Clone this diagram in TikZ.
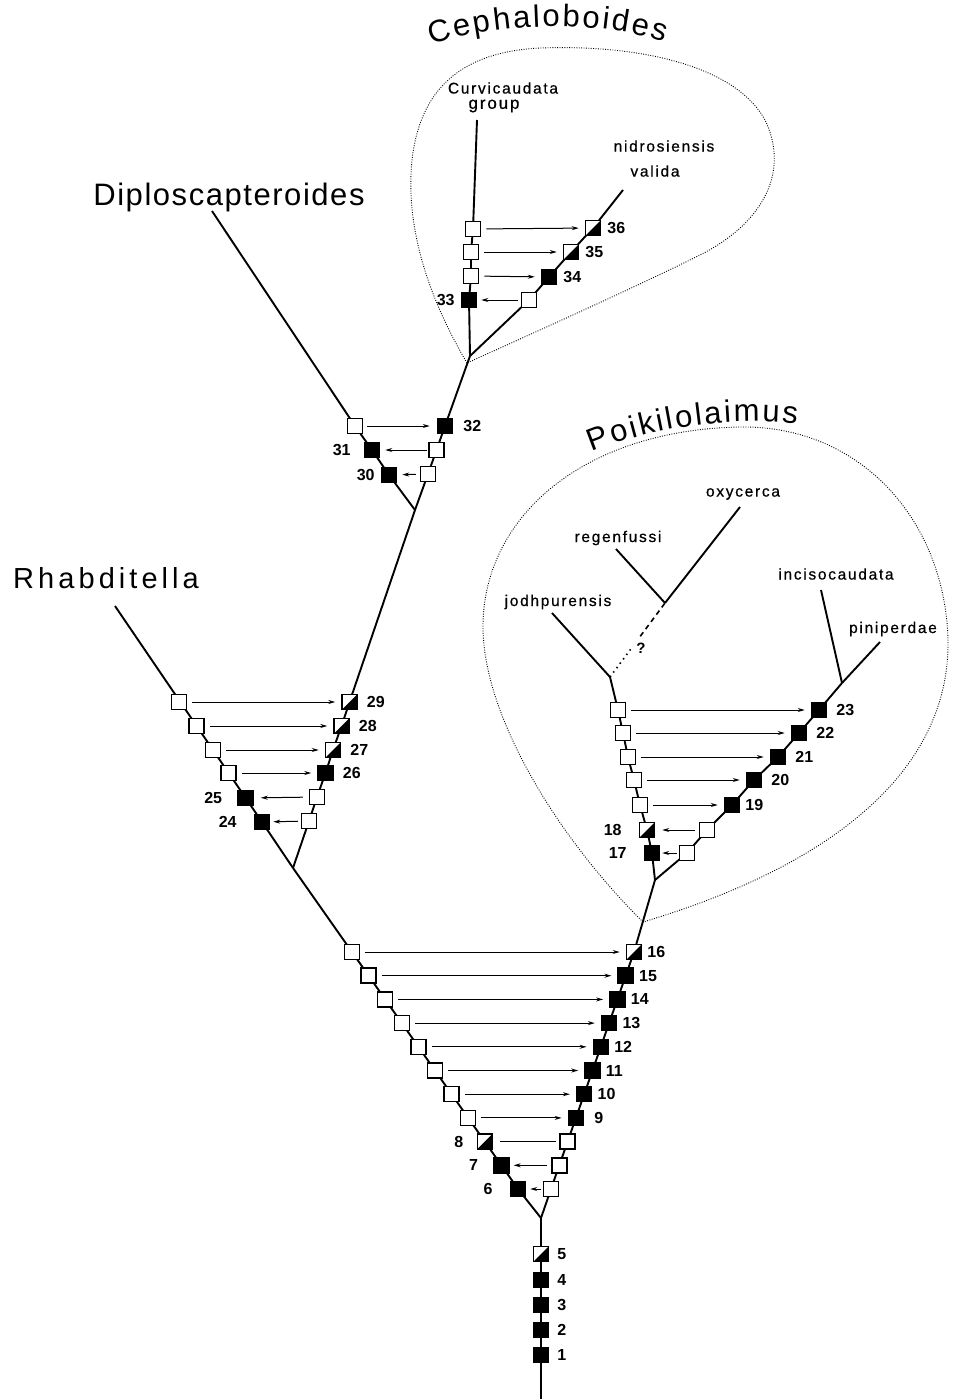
\documentclass[tikz,border=0pt]{standalone}
\usepackage{fontspec}
\setmainfont{Liberation Sans}
\usetikzlibrary{arrows.meta,backgrounds,positioning,calc,decorations.text}
\newfontfamily\spfont{Liberation Sans}[LetterSpace=11,FakeBold=0.6]
\newcommand\ttlsz{\fontsize{31}{31}\selectfont}
\begin{document}
\begin{tikzpicture}[x=1pt,y=-1pt,
  bx/.style={draw,line width=1.5pt,minimum size=15pt,inner sep=0pt,fill=white},
  fb/.style={bx,fill=black},
  hb/.style={bx,path picture={\fill[black] (path picture bounding box.south west) -- (path picture bounding box.north east) -- (path picture bounding box.south east) -- cycle;}},
  tree/.style={line width=1.9pt},
  arr/.style={line width=1pt,-{Stealth[length=7pt,width=4pt]},shorten <=5pt,shorten >=6pt},
  num/.style={font=\bfseries\fontsize{16}{16}\selectfont,inner sep=0pt},
  sp/.style={font=\spfont\fontsize{15.5}{15.5}\selectfont,inner sep=0pt},
  big/.style={font=\addfontfeature{LetterSpace=5}\fontsize{31}{31}\selectfont,inner sep=0pt},
  env/.style={line width=0.9pt,dash pattern=on 0.9pt off 1.5pt},
]
\useasboundingbox (0,0) rectangle (953,1399);

% ---------- trunk ----------
\coordinate (bot) at (541,1399);
\node[fb] (b1) at (541,1355) {};
\node[fb] (b2) at (541,1330) {};
\node[fb] (b3) at (541,1305) {};
\node[fb] (b4) at (541,1280) {};
\node[hb] (b5) at (541,1254) {};
\coordinate (f0) at (541,1218);
\foreach \i in {1,...,5} {\node[num,right=8pt of b\i] (nb\i) {\i};}

% ---------- main V ----------
\node[fb] (L6) at (518,1189) {};
\node[fb] (L7) at (501.4,1165.3) {};
\node[hb] (L8) at (484.8,1141.6) {};
\node[bx] (L9) at (468.2,1117.9) {};
\node[bx] (L10) at (451.6,1094.2) {};
\node[bx] (L11) at (435,1070.5) {};
\node[bx] (L12) at (418.4,1046.8) {};
\node[bx] (L13) at (401.8,1023.1) {};
\node[bx] (L14) at (385.2,999.4) {};
\node[bx] (L15) at (368.6,975.7) {};
\node[bx] (L16) at (352,952) {};
\node[bx] (R6) at (551,1189) {};
\node[bx] (R7) at (559.3,1165.3) {};
\node[bx] (R8) at (567.6,1141.6) {};
\node[fb] (R9) at (575.9,1117.9) {};
\node[fb] (R10) at (584.2,1094.2) {};
\node[fb] (R11) at (592.5,1070.5) {};
\node[fb] (R12) at (600.8,1046.8) {};
\node[fb] (R13) at (609.1,1023.1) {};
\node[fb] (R14) at (617.4,999.4) {};
\node[fb] (R15) at (625.7,975.7) {};
\node[hb] (R16) at (634,952) {};
\foreach \i in {10,...,16} {\node[num,right=5pt of R\i] (nR\i) {\i};}
\node[num,right=10pt of R9] (nR9) {9};
\node[num,left=13pt of L8] (nL8) {8};
\node[num,left=15pt of L7] (nL7) {7};
\node[num,left=17pt of L6] (nL6) {6};
\foreach \i in {9,...,16} {\draw[arr] (L\i) -- (R\i);}
\draw[line width=1pt,shorten <=7pt,shorten >=3pt] (L8) -- (R8);
\draw[arr,shorten <=4pt,shorten >=4pt] (R7) -- (L7);
\draw[arr,shorten <=1.5pt,shorten >=4pt] (R6) -- (L6);

% ---------- Rhabditella ----------
\coordinate (fR) at (293,868);
\node[fb] (L24) at (262,822) {};
\node[fb] (L25) at (245.5,798) {};
\node[bx] (L26) at (228.5,773) {};
\node[bx] (L27) at (213,750) {};
\node[bx] (L28) at (196.5,726) {};
\node[bx] (L29) at (179,702) {};
\coordinate (eRh) at (115,606);
\node[bx] (R24) at (309,821) {};
\node[bx] (R25) at (317,797) {};
\node[fb] (R26) at (325.5,773) {};
\node[hb] (R27) at (333,750) {};
\node[hb] (R28) at (341.5,726) {};
\node[hb] (R29) at (349.5,702) {};
\foreach \i in {26,...,29} {\node[num,right=9pt of R\i] (nR\i) {\i}; \draw[arr] (L\i) -- (R\i);}
\node[num,left=15pt of L25] (nL25) {25};
\node[num,left=17pt of L24] (nL24) {24};
\draw[arr,shorten <=6pt,shorten >=7pt] (R25) -- (L25);
\draw[arr,shorten <=3pt,shorten >=3pt] (R24) -- (L24);

% ---------- Diploscapteroides ----------
\coordinate (fD) at (415,510);
\node[fb] (D30) at (389,475) {};
\node[fb] (D31) at (372,450) {};
\node[bx] (D32) at (355,426) {};
\coordinate (eDi) at (212,211);
\node[bx] (E30) at (428,474) {};
\node[bx] (E31) at (436.5,450) {};
\node[fb] (E32) at (445,426) {};
\node[num,right=10pt of E32] (nE32) {32};
\node[num,left=13pt of D31] (nD31) {31};
\node[num,left=6pt of D30] (nD30) {30};
\draw[arr,shorten <=4pt,shorten >=7pt] (D32) -- (E32);
\draw[arr,shorten <=1pt,shorten >=5pt] (E31) -- (D31);
\draw[arr,shorten <=4pt,shorten >=5pt] (E30) -- (D30);

% ---------- Cephaloboides ----------
\coordinate (fC) at (470,356);
\node[fb] (C33) at (469,300) {};
\node[bx] (C34) at (471,276) {};
\node[bx] (C35) at (471,252) {};
\node[bx] (C36) at (473,229) {};
\coordinate (eCv) at (477,120);
\node[bx] (K33) at (529,300) {};
\node[fb] (K34) at (549,277) {};
\node[hb] (K35) at (571,252) {};
\node[hb] (K36) at (593,228) {};
\coordinate (eNi) at (623,190);
\foreach \i in {34,35,36} {\node[num,right=6pt of K\i] (nK\i) {\i}; \draw[arr] (C\i) -- (K\i);}
\node[num,left=6pt of C33] (nC33) {33};
\draw[arr,shorten <=3pt,shorten >=4pt] (K33) -- (C33);

% ---------- Poikilolaimus ----------
\coordinate (fP) at (655,880);
\node[fb] (P17) at (652,853) {};
\node[hb] (P18) at (647,830) {};
\node[bx] (P19) at (640,805) {};
\node[bx] (P20) at (634,780) {};
\node[bx] (P21) at (628,757) {};
\node[bx] (P22) at (623,733) {};
\node[bx] (P23) at (618,710) {};
\coordinate (fJ) at (610,677);
\node[bx] (Q17) at (687,853) {};
\node[bx] (Q18) at (707,830) {};
\node[fb] (Q19) at (732,805) {};
\node[fb] (Q20) at (754,780) {};
\node[fb] (Q21) at (778,757) {};
\node[fb] (Q22) at (799,733) {};
\node[fb] (Q23) at (819,710) {};
\coordinate (fI) at (842,683);
\node[num,right=5pt of Q19] (nQ19) {19};
\foreach \i in {20,...,23} {\node[num,right=9pt of Q\i] (nQ\i) {\i};}
\foreach \i in {19,...,23} {\draw[arr] (P\i) -- (Q\i);}
\node[num,left=17pt of P18] (nP18) {18};
\node[num,left=17pt of P17] (nP17) {17};
\draw[arr,shorten <=4pt,shorten >=7pt] (Q18) -- (P18);
\draw[arr,shorten <=2pt,shorten >=2pt] (Q17) -- (P17);
\coordinate (eJo) at (552,613);
\coordinate (fRg) at (665,603);
\coordinate (eRg) at (616,549);
\coordinate (eOx) at (740,507);
\coordinate (eIn) at (821,590);
\coordinate (ePi) at (880,642);

% ---------- tree lines ----------
\begin{scope}[on background layer]
\draw[tree] (bot) -- (b1.center) -- (b5.center) -- (f0);
\draw[tree] (f0) -- (L6.center) -- (L16.center) -- (fR);
\draw[tree] (f0) -- (R6.center) -- (R16.center) -- (fP);
\draw[tree] (fR) -- (L24.center) -- (eRh);
\draw[tree] (fR) -- (R24.center) -- (R25.center) -- (R26.center) -- (R27.center) -- (R28.center) -- (R29.center) -- (fD);
\draw[tree] (fD) -- (D30.center) -- (D31.center) -- (D32.center) -- (eDi);
\draw[tree] (fD) -- (E30.center) -- (E31.center) -- (E32.center) -- (fC);
\draw[tree] (fC) -- (C33.center) -- (C34.center) -- (C35.center) -- (C36.center) -- (eCv);
\draw[tree] (fC) -- (K33.center) -- (K34.center) -- (K35.center) -- (K36.center) -- (eNi);
\draw[tree] (fP) -- (P17.center) -- (P18.center) -- (P19.center) -- (P20.center) -- (P21.center) -- (P22.center) -- (P23.center) -- (fJ);
\draw[tree] (fP) -- (Q17.center) -- (Q18.center) -- (Q19.center) -- (Q20.center) -- (Q21.center) -- (Q22.center) -- (Q23.center) -- (fI);
\draw[tree] (fJ) -- (eJo);
\draw[tree] (fRg) -- (eRg);
\draw[tree] (fRg) -- (eOx);
\draw[tree] (fI) -- (eIn);
\draw[tree] (fI) -- (ePi);
\draw[tree,line width=1.6pt,dash pattern=on 1.5pt off 4pt] (fJ) -- ($(fJ)!0.38!(fRg)$);
\draw[tree,line width=1.6pt,dash pattern=on 5pt off 4pt] ($(fJ)!0.55!(fRg)$) -- (fRg);
\end{scope}
\node[font=\bfseries\fontsize{15}{15}\selectfont,inner sep=0pt] (q) at (641,648) {?};

% ---------- envelopes ----------
\draw[env] (467,363) .. controls (430,300) and (405,230) .. (412,160)
  .. controls (420,90) and (460,52) .. (540,48)
  .. controls (650,44) and (740,70) .. (766,122)
  .. controls (790,175) and (760,225) .. (700,255)
  .. controls (640,285) and (540,330) .. (467,363);
\draw[env] (643,922) .. controls (560,840) and (485,720) .. (483,630)
  .. controls (481,520) and (580,430) .. (740,427)
  .. controls (860,425) and (945,520) .. (948,640)
  .. controls (950,760) and (850,860) .. (643,922);

% ---------- titles ----------
\node[big,anchor=base] (tDi) at (229,205) {Diploscapteroides};
\node[font=\addfontfeature{LetterSpace=14}\fontsize{29}{29}\selectfont,inner sep=0pt,anchor=base west] (tRh) at (13,588) {Rhabditella};
\path[decorate,decoration={text along path,text={|\ttlsz|Cephaloboides},text align={fit to path}}]
  (432,45) .. controls (500,22) and (600,20) .. (664,42);
\path[decorate,decoration={text along path,text={|\ttlsz|Poikilolaimus},text align={fit to path}}]
  (592,452) .. controls (650,428) and (730,416) .. (797,424);

% ---------- species labels ----------
\node[sp] (tCu) at (503,88) {Curvicaudata};
\node[sp,font=\spfont\fontsize{17}{17}\selectfont] (tGr) at (494,106) {group};
\node[sp] (tNi) at (664,146) {nidrosiensis};
\node[sp] (tVa) at (655,171) {valida};
\node[sp] (tOx) at (743,494) {oxycerca};
\node[sp] (tRg) at (618,538) {regenfussi};
\node[sp] (tJo) at (558,602) {jodhpurensis};
\node[sp] (tIn) at (836,574) {incisocaudata};
\node[sp] (tPi) at (893,629) {piniperdae};
\end{tikzpicture}
\end{document}
